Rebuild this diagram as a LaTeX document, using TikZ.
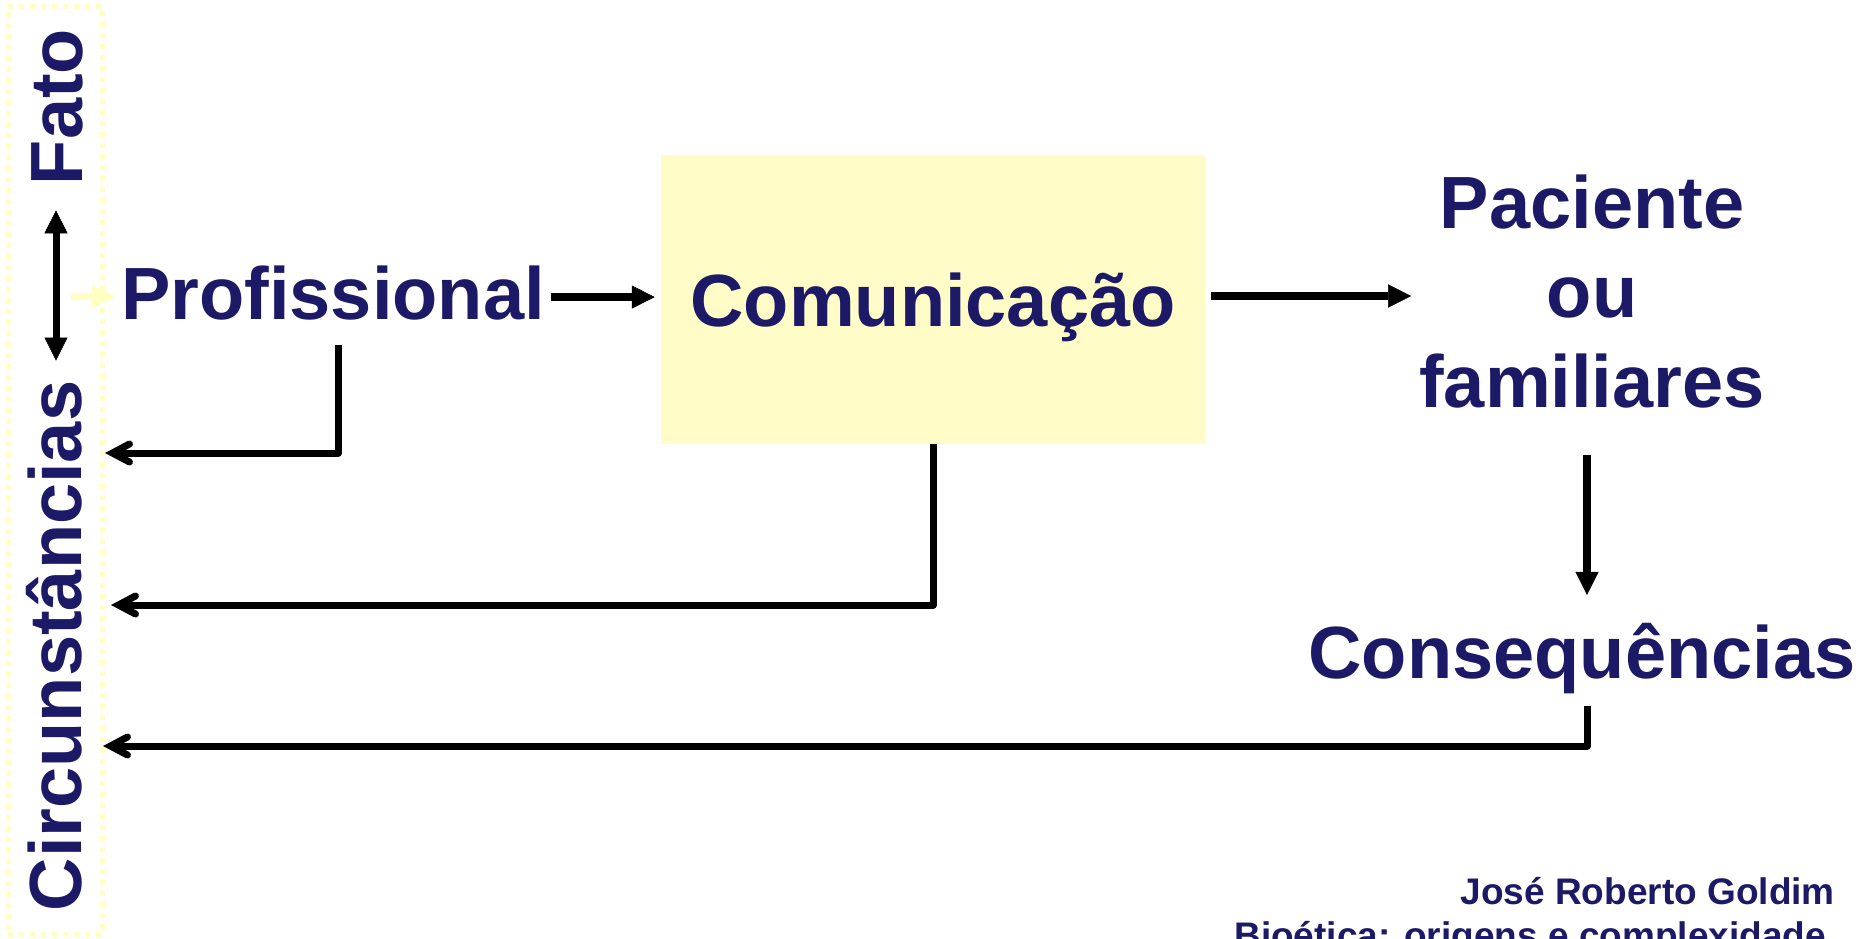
\documentclass[tikz,border=0pt]{standalone}
\usepackage{fontspec}
\setmainfont{Liberation Sans}
\usetikzlibrary{arrows.meta}
\definecolor{navy}{RGB}{28,26,102}
\definecolor{boxyellow}{RGB}{255,252,200}
\definecolor{paleyellow}{RGB}{255,255,195}
\begin{document}
\begin{tikzpicture}[x=1pt,y=-1pt,
  big/.style={font=\fontsize{74}{89.5}\bfseries\selectfont, text=navy, inner sep=0pt},
  small/.style={font=\fontsize{37}{44}\bfseries\selectfont, text=navy, inner sep=0pt},
  combox/.style={fill=boxyellow, draw=none, minimum width=544pt, minimum height=289pt, inner sep=0pt, text height=53pt, text depth=0pt},
  tri/.tip={Triangle[length=23pt,width=23pt,line width=0.5pt]},
  mainarrow/.style={line width=8pt, -tri},
  dblarrow/.style={line width=7pt, tri-tri},
  fbarrow/.style={line width=7pt, line join=round, -{Straight Barb[length=17pt,width=18pt,line cap=round]}},
  yarrow/.style={line width=7pt, draw=paleyellow, -{Triangle[length=24pt,width=22pt]}},
  frame/.style={draw=paleyellow, line width=5pt, dash pattern=on 5pt off 6pt, minimum width=94pt, minimum height=928pt, inner sep=0pt}
]
\useasboundingbox (0,0) rectangle (1865,938);
\node[frame] (frm) at (55,470) {};

\node[big, rotate=90] (fato) at (57,107) {Fato};
\node[big, rotate=90] (circ) at (54,646) {Circunstâncias};

\node[big, anchor=base] (prof) at (333,319) {Profissional};
\node[combox, big] (com) at (933,299.5) {Comunicação};
\node[big, align=center, anchor=base] (pac) at (1592,407) {Paciente\\ou\\familiares};
\node[big, anchor=base] (cons) at (1582,678) {Consequências};

\node[small, anchor=base east] (auth1) at (1835,904) {José Roberto Goldim};
\node[small, anchor=base east] (auth2) at (1826,948) {Bioética: origens e complexidade};

\coordinate (t1) at (105,453);
\coordinate (t2) at (111,605);
\coordinate (t3) at (103,746);

\draw[dblarrow] ([xshift=-1pt,yshift=-25pt]fato.west) -- ([xshift=2pt,yshift=20pt]circ.east);
\draw[yarrow] ([xshift=-50pt,yshift=-4pt]prof.west) -- ([xshift=-5pt,yshift=-4pt]prof.west);

\draw[mainarrow, shorten <=6pt, shorten >=6pt] ([yshift=-4.5pt]prof.east) -- ([yshift=-4.5pt]prof.east -| com.west);
\draw[mainarrow] ([xshift=6pt,yshift=3.5pt]com.east) -- ([xshift=206pt,yshift=3.5pt]com.east);
\draw[mainarrow] ([xshift=-5pt,yshift=-47pt]pac.south) -- ([xshift=-5pt,yshift=-187pt]pac.south);

\draw[fbarrow] ([xshift=5pt,yshift=-26pt]prof.base) |- (t1);
\draw[fbarrow] (com.south) |- (t2);
\draw[fbarrow] ([xshift=5pt,yshift=-12pt]cons.south) |- (t3);
\end{tikzpicture}
\end{document}
